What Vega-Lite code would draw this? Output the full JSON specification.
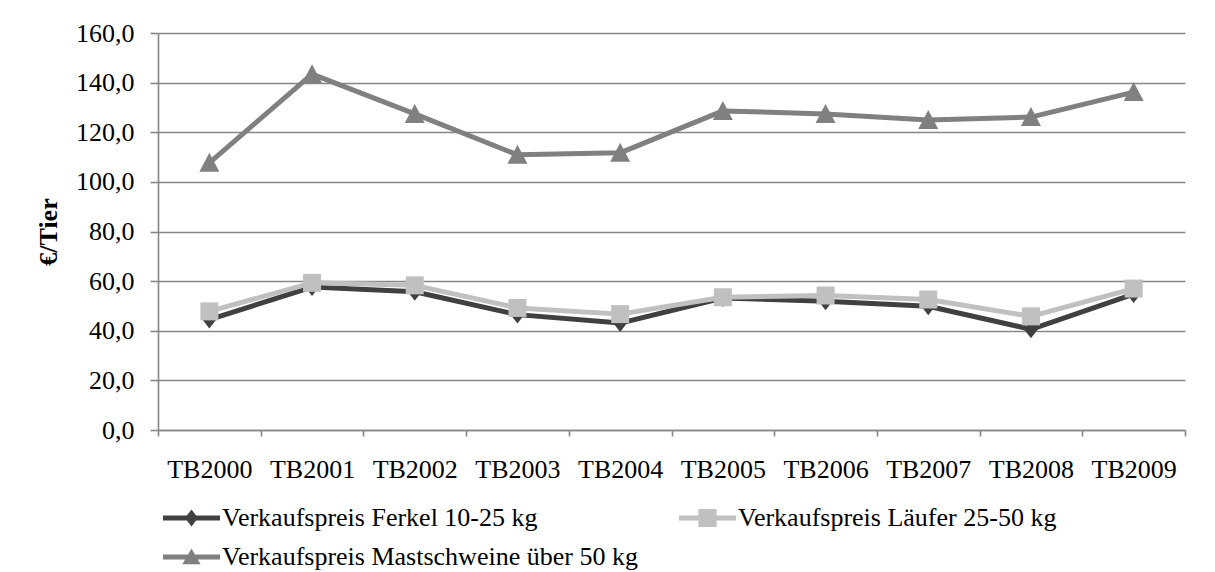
{
  "$schema": "https://vega.github.io/schema/vega-lite/v6.json",
  "width": 1027,
  "height": 397,
  "autosize": {"type": "none"},
  "padding": {"left": 158, "top": 33, "right": 30, "bottom": 142},
  "background": "#ffffff",
  "config": {
    "font": "Liberation Serif",
    "view": {"stroke": null},
    "axis": {
      "labelFont": "Liberation Serif",
      "labelFontSize": 26,
      "labelColor": "#000000",
      "domainColor": "#868686",
      "domainWidth": 1.6,
      "tickColor": "#868686",
      "tickWidth": 1.6,
      "gridColor": "#868686",
      "gridWidth": 1.6
    },
    "legend": {
      "labelFont": "Liberation Serif",
      "labelFontSize": 26,
      "labelColor": "#000000"
    }
  },
  "data": {
    "values": [
      {"jahr": "TB2000", "serie": "Verkaufspreis Mastschweine über 50 kg", "preis": 107.7},
      {"jahr": "TB2001", "serie": "Verkaufspreis Mastschweine über 50 kg", "preis": 143.4},
      {"jahr": "TB2002", "serie": "Verkaufspreis Mastschweine über 50 kg", "preis": 127.4},
      {"jahr": "TB2003", "serie": "Verkaufspreis Mastschweine über 50 kg", "preis": 110.9},
      {"jahr": "TB2004", "serie": "Verkaufspreis Mastschweine über 50 kg", "preis": 111.7},
      {"jahr": "TB2005", "serie": "Verkaufspreis Mastschweine über 50 kg", "preis": 128.6},
      {"jahr": "TB2006", "serie": "Verkaufspreis Mastschweine über 50 kg", "preis": 127.4},
      {"jahr": "TB2007", "serie": "Verkaufspreis Mastschweine über 50 kg", "preis": 124.9},
      {"jahr": "TB2008", "serie": "Verkaufspreis Mastschweine über 50 kg", "preis": 126.1},
      {"jahr": "TB2009", "serie": "Verkaufspreis Mastschweine über 50 kg", "preis": 136.2},
      {"jahr": "TB2000", "serie": "Verkaufspreis Ferkel 10-25 kg", "preis": 44.5},
      {"jahr": "TB2001", "serie": "Verkaufspreis Ferkel 10-25 kg", "preis": 57.6},
      {"jahr": "TB2002", "serie": "Verkaufspreis Ferkel 10-25 kg", "preis": 55.7},
      {"jahr": "TB2003", "serie": "Verkaufspreis Ferkel 10-25 kg", "preis": 46.5},
      {"jahr": "TB2004", "serie": "Verkaufspreis Ferkel 10-25 kg", "preis": 43.1},
      {"jahr": "TB2005", "serie": "Verkaufspreis Ferkel 10-25 kg", "preis": 53.2},
      {"jahr": "TB2006", "serie": "Verkaufspreis Ferkel 10-25 kg", "preis": 51.9},
      {"jahr": "TB2007", "serie": "Verkaufspreis Ferkel 10-25 kg", "preis": 49.9},
      {"jahr": "TB2008", "serie": "Verkaufspreis Ferkel 10-25 kg", "preis": 40.6},
      {"jahr": "TB2009", "serie": "Verkaufspreis Ferkel 10-25 kg", "preis": 54.8},
      {"jahr": "TB2000", "serie": "Verkaufspreis Läufer 25-50 kg", "preis": 47.8},
      {"jahr": "TB2001", "serie": "Verkaufspreis Läufer 25-50 kg", "preis": 59.3},
      {"jahr": "TB2002", "serie": "Verkaufspreis Läufer 25-50 kg", "preis": 58.3},
      {"jahr": "TB2003", "serie": "Verkaufspreis Läufer 25-50 kg", "preis": 49.2},
      {"jahr": "TB2004", "serie": "Verkaufspreis Läufer 25-50 kg", "preis": 46.7},
      {"jahr": "TB2005", "serie": "Verkaufspreis Läufer 25-50 kg", "preis": 53.5},
      {"jahr": "TB2006", "serie": "Verkaufspreis Läufer 25-50 kg", "preis": 54.2},
      {"jahr": "TB2007", "serie": "Verkaufspreis Läufer 25-50 kg", "preis": 52.6},
      {"jahr": "TB2008", "serie": "Verkaufspreis Läufer 25-50 kg", "preis": 45.8},
      {"jahr": "TB2009", "serie": "Verkaufspreis Läufer 25-50 kg", "preis": 57.0}
    ]
  },
  "encoding": {
    "x": {
      "field": "jahr",
      "type": "nominal",
      "sort": null,
      "scale": {"type": "band", "paddingInner": 0, "paddingOuter": 0},
      "axis": {
        "title": null,
        "labelAngle": 0,
        "tickBand": "extent",
        "tickSize": 6,
        "labelPadding": 20,
        "grid": false
      }
    },
    "y": {
      "field": "preis",
      "type": "quantitative",
      "scale": {"domain": [0, 160], "nice": false, "zero": true},
      "axis": {
        "title": "€/Tier",
        "titleFont": "Liberation Serif",
        "titleFontSize": 26,
        "titleFontWeight": "bold",
        "titleColor": "#000000",
        "titlePadding": 14,
        "values": [0, 20, 40, 60, 80, 100, 120, 140, 160],
        "labelExpr": "replace(format(datum.value, '.1f'), '.', ',')",
        "tickSize": 8,
        "labelPadding": 16,
        "grid": true
      }
    },
    "color": {
      "field": "serie",
      "type": "nominal",
      "scale": {
        "domain": ["Verkaufspreis Ferkel 10-25 kg", "Verkaufspreis Läufer 25-50 kg", "Verkaufspreis Mastschweine über 50 kg"],
        "range": ["#404040", "#c0c0c0", "#808080"]
      },
      "legend": {
        "title": null,
        "orient": "none",
        "legendX": 5,
        "legendY": 470,
        "direction": "horizontal",
        "columns": 2,
        "columnPadding": 41,
        "rowPadding": 9,
        "padding": 0,
        "clipHeight": 30,
        "symbolSize": 3249,
        "symbolStrokeWidth": 0,
        "symbolOffset": 0,
        "labelOffset": 2,
        "labelLimit": 0,
        "encode": {
          "symbols": {
            "update": {
              "shape": {"signal": "datum.value === 'Verkaufspreis Ferkel 10-25 kg' ? 'M-1,-0.09L1,-0.09L1,0.09L-1,0.09Z M0,-0.3L0.23,0L0,0.3L-0.23,0Z' : datum.value === 'Verkaufspreis Läufer 25-50 kg' ? 'M-1,-0.09L1,-0.09L1,0.09L-1,0.09Z M-0.32,-0.32L0.32,-0.32L0.32,0.32L-0.32,0.32Z' : 'M-1,-0.09L1,-0.09L1,0.09L-1,0.09Z M0,-0.3L0.32,0.25L-0.32,0.25Z'"},
              "fill": {"scale": "color", "field": "value"},
              "fillOpacity": {"value": 1},
              "strokeWidth": {"value": 0}
            }
          }
        }
      }
    }
  },
  "layer": [
    {
      "mark": {"type": "line", "strokeWidth": 5, "strokeJoin": "round"}
    },
    {
      "transform": [{"filter": "datum.serie === 'Verkaufspreis Mastschweine über 50 kg'"}],
      "mark": {"type": "point", "filled": true, "opacity": 1, "size": 400, "strokeWidth": 0, "shape": "M0,-1L1,0.9L-1,0.9Z"}
    },
    {
      "transform": [{"filter": "datum.serie === 'Verkaufspreis Ferkel 10-25 kg'"}],
      "mark": {"type": "point", "filled": true, "opacity": 1, "size": 400, "strokeWidth": 0, "shape": "M0,-0.9L0.7,0L0,0.9L-0.7,0Z"}
    },
    {
      "transform": [{"filter": "datum.serie === 'Verkaufspreis Läufer 25-50 kg'"}],
      "mark": {"type": "point", "filled": true, "opacity": 1, "size": 400, "strokeWidth": 0, "shape": "M-0.9,-0.9L0.9,-0.9L0.9,0.9L-0.9,0.9Z"}
    }
  ]
}
